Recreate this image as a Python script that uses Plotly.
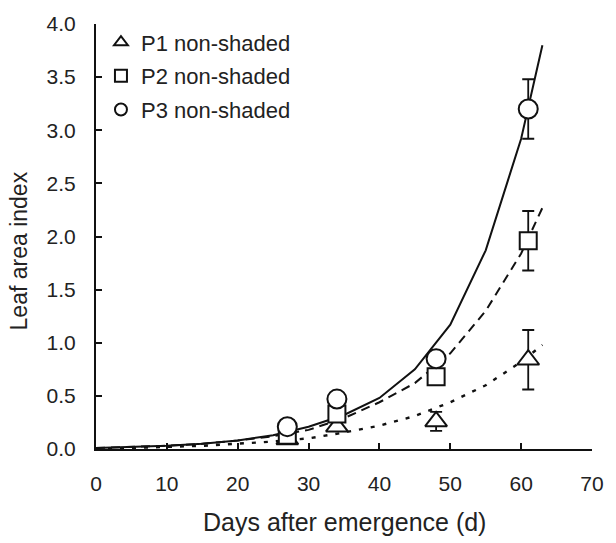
import plotly.graph_objects as go

# Sampling days (observed LAI)
obs_days = [27, 34, 48, 61]

# Observed leaf area index by planting date
p1_lai = [0.09, 0.21, 0.26, 0.84]
p2_lai = [0.13, 0.33, 0.68, 1.96]
p3_lai = [0.21, 0.47, 0.85, 3.20]

# Standard errors
p1_err = [0.03, 0.04, 0.09, 0.28]
p2_err = [0.03, 0.04, 0.05, 0.28]
p3_err = [0.03, 0.04, 0.05, 0.28]

# Fitted growth curves
fit_days = [0, 5, 10, 15, 20, 25, 30, 35, 40, 45, 50, 55, 60, 63]
p1_fit = [0.00, 0.01, 0.02, 0.03, 0.05, 0.07, 0.10, 0.155, 0.22, 0.31, 0.44, 0.60, 0.82, 0.98]
p2_fit = [0.01, 0.02, 0.03, 0.05, 0.08, 0.12, 0.18, 0.29, 0.44, 0.62, 0.90, 1.30, 1.84, 2.27]
p3_fit = [0.01, 0.02, 0.03, 0.05, 0.08, 0.13, 0.21, 0.32, 0.48, 0.75, 1.17, 1.87, 2.92, 3.80]

series_names = ["P1 non-shaded", "P2 non-shaded", "P3 non-shaded"]
x_ticks = [0, 10, 20, 30, 40, 50, 60, 70]
y_ticks = [0.0, 0.5, 1.0, 1.5, 2.0, 2.5, 3.0, 3.5, 4.0]

INK = "#111111"
FONT = "Liberation Sans, Arial, Helvetica, sans-serif"

fig = go.Figure()

# Fitted curves
for fit, dash, w in [(p1_fit, "4px,8px", 2.4), (p2_fit, "9px,6px", 2), (p3_fit, "solid", 2)]:
    fig.add_trace(go.Scatter(
        x=fit_days, y=fit, mode="lines", showlegend=False, hoverinfo="skip",
        line=dict(color=INK, width=w, dash=dash),
    ))

# Observations with error bars
symbols = ["triangle-up", "square", "circle"]
sizes = [19, 17, 19]
for i, (vals, errs) in enumerate([(p1_lai, p1_err), (p2_lai, p2_err), (p3_lai, p3_err)]):
    fig.add_trace(go.Scatter(
        x=obs_days, y=vals, mode="markers", name=series_names[i],
        legendgroup=series_names[i],
        marker=dict(symbol=symbols[i], size=sizes[i], color="white",
                    line=dict(color=INK, width=2)),
        error_y=dict(type="data", array=errs, visible=True, color=INK,
                     thickness=1.8, width=6),
    ))

fig.update_layout(
    width=616, height=543,
    margin=dict(l=96, r=16, t=15, b=94),
    paper_bgcolor="white", plot_bgcolor="white",
    font=dict(family=FONT, color="#222222"),
    showlegend=True,
    legend=dict(
        x=0.01, y=1.006, xanchor="left", yanchor="top",
        bgcolor="rgba(0,0,0,0)", borderwidth=0,
        font=dict(size=22, family=FONT, color="#222222"),
        tracegroupgap=2, itemwidth=30, itemsizing="constant",
    ),
    xaxis=dict(
        range=[0, 70], tickvals=x_ticks, ticks="inside", ticklen=6, tickwidth=2,
        tickcolor=INK, showline=True, linecolor=INK, linewidth=2,
        showgrid=False, zeroline=False, tickfont=dict(size=21),
        ticklabelstandoff=15,
    ),
    yaxis=dict(
        range=[0, 4], tickvals=y_ticks, tickformat=".1f", ticks="inside",
        ticklen=6, tickwidth=2, tickcolor=INK, showline=True, linecolor=INK,
        linewidth=2, showgrid=False, zeroline=False, tickfont=dict(size=21),
        ticklabelstandoff=14,
    ),
    annotations=[
        dict(text="Days after emergence (d)", xref="paper", yref="paper",
             x=(349 - 96) / 504, y=-(524 - 449) / 434, xanchor="center",
             yanchor="middle", showarrow=False, font=dict(size=25)),
        dict(text="Leaf area index", xref="paper", yref="paper",
             x=-(96 - 18) / 504, y=(449 - 247) / 434, xanchor="center",
             yanchor="middle", textangle=-90, showarrow=False,
             font=dict(size=23)),
    ],
)

fig.write_html("out.html")
